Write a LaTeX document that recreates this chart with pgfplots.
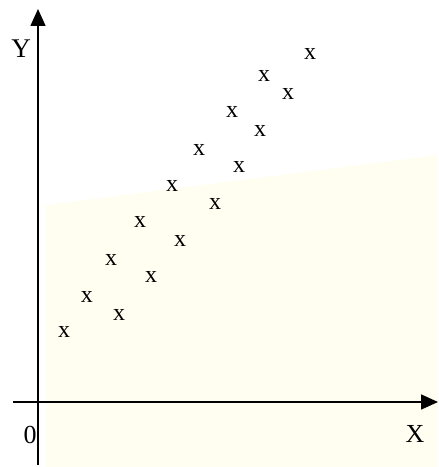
\documentclass[border=0pt]{standalone}
\usepackage{pgfplots}
\pgfplotsset{compat=1.18}
\usepackage{fontspec}
\setmainfont{Liberation Serif}
\usetikzlibrary{arrows.meta}

\begin{document}
\begin{tikzpicture}
\begin{axis}[
  width=438pt, height=467pt, scale only axis,
  xmin=-38, xmax=400, ymin=-65, ymax=402,
  axis lines=none, clip=false,
]
  % page frame
  \path (axis cs:-38,-65) rectangle (axis cs:400,402);
  % pale background panel
  \fill[yellow!6] (axis cs:8,197) -- (axis cs:400,247) -- (axis cs:400,-65) -- (axis cs:8,-65) -- cycle;

  % axes with arrow heads
  \draw[line width=1.6pt, -{Triangle[length=17pt,width=15pt]}]
    (axis cs:-25,0) -- (axis cs:400,0);
  \draw[line width=1.6pt, -{Triangle[length=17pt,width=15pt]}]
    (axis cs:0,-63) -- (axis cs:0,393);

  % axis labels
  \node[font=\fontsize{27}{27}\selectfont] at (axis cs:-17,353) {Y};
  \node[font=\fontsize{26}{26}\selectfont] at (axis cs:377,-32) {X};
  \node[font=\fontsize{26}{26}\selectfont] at (axis cs:-8,-33) {0};

  % observations
  \addplot[only marks, mark=text, text mark={\fontsize{24}{24}\selectfont x}]
  coordinates {
    (26,70) (49,105) (81,87) (73,142) (113,125) (102,180)
    (142,161) (134,216) (177,198) (161,252) (201,235) (194,290)
    (222,271) (226,326) (250,308) (272,348)
  };
\end{axis}
\end{tikzpicture}
\end{document}
